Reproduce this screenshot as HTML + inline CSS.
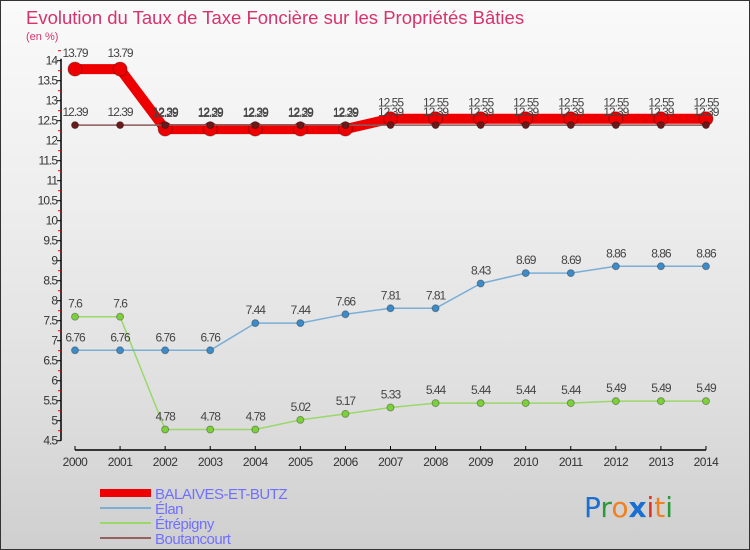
<!DOCTYPE html>
<html><head><meta charset="utf-8"><style>
body{margin:0;width:750px;height:550px;overflow:hidden;font-family:"Liberation Sans",sans-serif}
#c{position:absolute;left:0;top:0;width:748px;height:548px;border:1px solid #333;background:linear-gradient(#fafafa,#f0f0f0 30%,#e0e0e0 70%,#cfcfcf)}
</style></head><body>
<div id="c">
<svg id="s" width="750" height="550" style="position:absolute;left:-1px;top:-1px">
<text x="26" y="24" font-size="18.5" fill="#d6336c">Evolution du Taux de Taxe Foncière sur les Propriétés Bâties</text>
<text x="26" y="40" font-size="11" fill="#d6336c">(en %)</text>
<text x="584" y="517" font-size="28" font-family="DejaVu Sans,sans-serif"><tspan fill="#1a6fd0">P</tspan><tspan fill="#2a9a3a">r</tspan><tspan fill="#f08020">o</tspan><tspan fill="#1a6fd0" font-weight="bold">x</tspan><tspan fill="#e03020">i</tspan><tspan fill="#f08020">t</tspan><tspan fill="#2a9a3a">i</tspan></text>
</svg>
</div>
<script>
const years=[2000,2001,2002,2003,2004,2005,2006,2007,2008,2009,2010,2011,2012,2013,2014];
const balaives=[13.79,13.79,12.29,12.29,12.29,12.29,12.29,12.55,12.55,12.55,12.55,12.55,12.55,12.55,12.55];
const elan=[6.76,6.76,6.76,6.76,7.44,7.44,7.66,7.81,7.81,8.43,8.69,8.69,8.86,8.86,8.86];
const etrepigny=[7.6,7.6,4.78,4.78,4.78,5.02,5.17,5.33,5.44,5.44,5.44,5.44,5.49,5.49,5.49];
const boutancourt=[12.39,12.39,12.39,12.39,12.39,12.39,12.39,12.39,12.39,12.39,12.39,12.39,12.39,12.39,12.39];
const yTicks=[4.5,5,5.5,6,6.5,7,7.5,8,8.5,9,9.5,10,10.5,11,11.5,12,12.5,13,13.5,14];
const seriesNames=["BALAIVES-ET-BUTZ","Élan","Étrépigny","Boutancourt"];
const NS="http://www.w3.org/2000/svg",s=document.getElementById('s');
const X=i=>75+i*45.07, Y=v=>440.7-(v-4.5)*40;
function el(t,a,p){const e=document.createElementNS(NS,t);for(const k in a)e.setAttribute(k,a[k]);(p||s).appendChild(e);return e;}
let ax=el('g',{});


el('line',{x1:61,y1:Y(14)-2,x2:61,y2:Y(4.5),stroke:'#000','stroke-width':1.5},ax);
yTicks.forEach(v=>{
  el('line',{x1:57,y1:Y(v),x2:61,y2:Y(v),stroke:'#000'},ax);
  el('line',{x1:58,y1:Y(v)-10,x2:61,y2:Y(v)-10,stroke:'#e00'},ax);
  const t=el('text',{x:57,y:Y(v)+4,'font-size':12,'text-anchor':'end',fill:'#333','letter-spacing':'-1'},ax);
  t.textContent=v;
  
  
});
let xa=el('g',{});


el('line',{x1:X(0),y1:450,x2:X(14),y2:450,stroke:'#000','stroke-width':1.5},xa);
years.forEach((y,i)=>{
  el('line',{x1:X(i),y1:446,x2:X(i),y2:450,stroke:'#000'},xa);
  const t=el('text',{x:X(i),y:466,'font-size':12,'text-anchor':'middle',fill:'#333','letter-spacing':'-0.5'},xa);
  t.textContent=y;
  
  
});
function series(vals,color,w,r,dot,name,labelDy){
  const g=el('g',{});
  
  
  el('polyline',{points:vals.map((v,i)=>X(i)+','+Y(v)).join(' '),fill:'none',stroke:color,'stroke-width':w,'stroke-linejoin':'round'},g);
  vals.forEach((v,i)=>{
    const c=el('circle',{cx:X(i),cy:Y(v),r:r,fill:dot,stroke:'rgba(0,0,0,0.3)'},g);
    
    
    const t=el('text',{x:X(i),y:Y(v)-labelDy,'font-size':12,'text-anchor':'middle',fill:'#444','letter-spacing':'-1'},g);
    t.textContent=v;
    
    
  });
}
series(etrepigny,'#9ad86a',1.5,3.5,'#7cd03a','series-etrepigny',9);
series(elan,'#7aaed6',1.5,3.5,'#3d8cc8','series-elan',9);
series(balaives,'#ee0000',10,7,'#ee0000','series-balaives',12);
series(boutancourt,'#8b5a5a',1.5,3.5,'#6b1a1a','series-boutancourt',9);
const lc=['#ee0000','#7aaed6','#9ad86a','#946060'],lw=[8,2,2,2];
seriesNames.forEach((n,i)=>{
  const g=el('g',{});
  
  
  const y=493+i*15;
  el('line',{x1:100,y1:y,x2:151,y2:y,stroke:lc[i],'stroke-width':lw[i]},g);
  const t=el('text',{x:155,y:y+6,'font-size':15,fill:'#7070ff','letter-spacing':'-0.5'},g);
  t.textContent=n;
});
</script>
</body></html>
